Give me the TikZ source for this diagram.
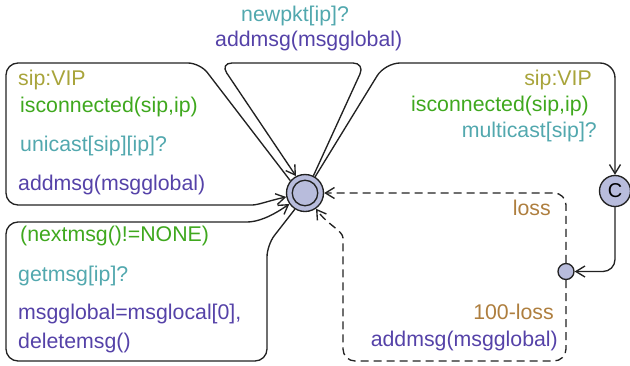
\documentclass[tikz,border=0pt]{standalone}
\usepackage{fontspec}
\setmainfont{Liberation Sans}
\usetikzlibrary{arrows.meta}

\definecolor{selcol}{HTML}{A8A43A}
\definecolor{guardcol}{HTML}{3FA81E}
\definecolor{synccol}{HTML}{52A8AE}
\definecolor{updcol}{HTML}{5542A8}
\definecolor{probcol}{HTML}{AE7E3E}
\definecolor{locfill}{HTML}{B8BCDC}
\definecolor{edgecol}{HTML}{222222}

\begin{document}
\begin{tikzpicture}[x=1pt,y=1pt,
  lbl/.style={inner sep=0pt, font=\fontsize{21.3}{25}\selectfont},
  edge/.style={draw=edgecol, line width=1.35pt, rounded corners=12pt,
    -{Straight Barb[length=9pt,width=11pt]}},
  dashedge/.style={edge, dash pattern=on 8pt off 5pt},
  loc/.style={circle, draw=edgecol, fill=locfill, line width=1.35pt, inner sep=0pt}]
\useasboundingbox (0,0) rectangle (630,-365);

% locations
\node[loc, minimum size=37pt] (idle) at (305,-193) {};
\node[circle, draw=edgecol, line width=1.35pt, minimum size=25.5pt, inner sep=0pt] (idlein) at (idle) {};
\node[loc, minimum size=31pt, font=\fontsize{20}{20}\selectfont] (commit) at (615,-191) {C};
\node[loc, minimum size=16pt] (branch) at (566,-271.5) {};

% self loop on top: newpkt
\draw[edge] (idle.64) -- (365,-63) -- (220,-63) -- (idle.118);
\node[lbl, anchor=base west, text=synccol] (npS) at (241,-21.5) {newpkt[ip]?};
\node[lbl, anchor=base west, text=updcol] (npU) at (215,-46.5) {addmsg(msgglobal)};

% self loop on the left: unicast
\draw[edge] (idle.140) -- (200,-63) -- (6,-63) -- (6,-205) -- (240,-205)
  to[out=0,in=192] (idle.192);
\node[lbl, anchor=base west, text=selcol] (ucSel) at (18,-85.5) {sip:VIP};
\node[lbl, anchor=base west, text=guardcol] (ucG) at (20,-112) {isconnected(sip,ip)};
\node[lbl, anchor=base west, text=synccol] (ucS) at (20,-151.5) {unicast[sip][ip]?};
\node[lbl, anchor=base west, text=updcol] (ucU) at (18,-190) {addmsg(msgglobal)};

% self loop at the bottom left: getmsg
\draw[edge] (idle.238) -- (267,-245) -- (267,-361) -- (6,-361) -- (6,-222) -- (235,-222)
  to[out=0,in=215] (idle.215);
\node[lbl, anchor=base west, text=guardcol] (gmG) at (20,-241.5) {(nextmsg()!=NONE)};
\node[lbl, anchor=base west, text=synccol] (gmS) at (18,-281.5) {getmsg[ip]?};
\node[lbl, anchor=base west, text=updcol] (gmU1) at (18,-319.5) {msgglobal=msglocal[0],};
\node[lbl, anchor=base west, text=updcol] (gmU2) at (18,-348.5) {deletemsg()};

% multicast to the committed location
\draw[edge, rounded corners=15pt] (idle.58) -- (385,-63) -- (615,-63) -- (commit);
\node[lbl, anchor=base east, text=selcol] (mcSel) at (592,-85.5) {sip:VIP};
\node[lbl, anchor=base east, text=guardcol] (mcG) at (589,-111.5) {isconnected(sip,ip)};
\node[lbl, anchor=base east, text=synccol] (mcS) at (597,-137.5) {multicast[sip]?};

% committed location to the branch point
\draw[edge] (commit) -- (615,-271.5) -- (branch);

% probabilistic branches
\draw[dashedge] (branch) -- (566,-193) -- (idle);
\node[lbl, anchor=base east, text=probcol] (lossP) at (551,-215) {loss};

\draw[dashedge] (branch) -- (566,-361) -- (343,-361) -- (343,-250)
  to[out=90,in=-55] (idle.-55);
\node[lbl, anchor=base east, text=probcol] (okP) at (554,-319.5) {100-loss};
\node[lbl, anchor=base east, text=updcol] (okU) at (558,-346.5) {addmsg(msgglobal)};
\end{tikzpicture}
\end{document}
